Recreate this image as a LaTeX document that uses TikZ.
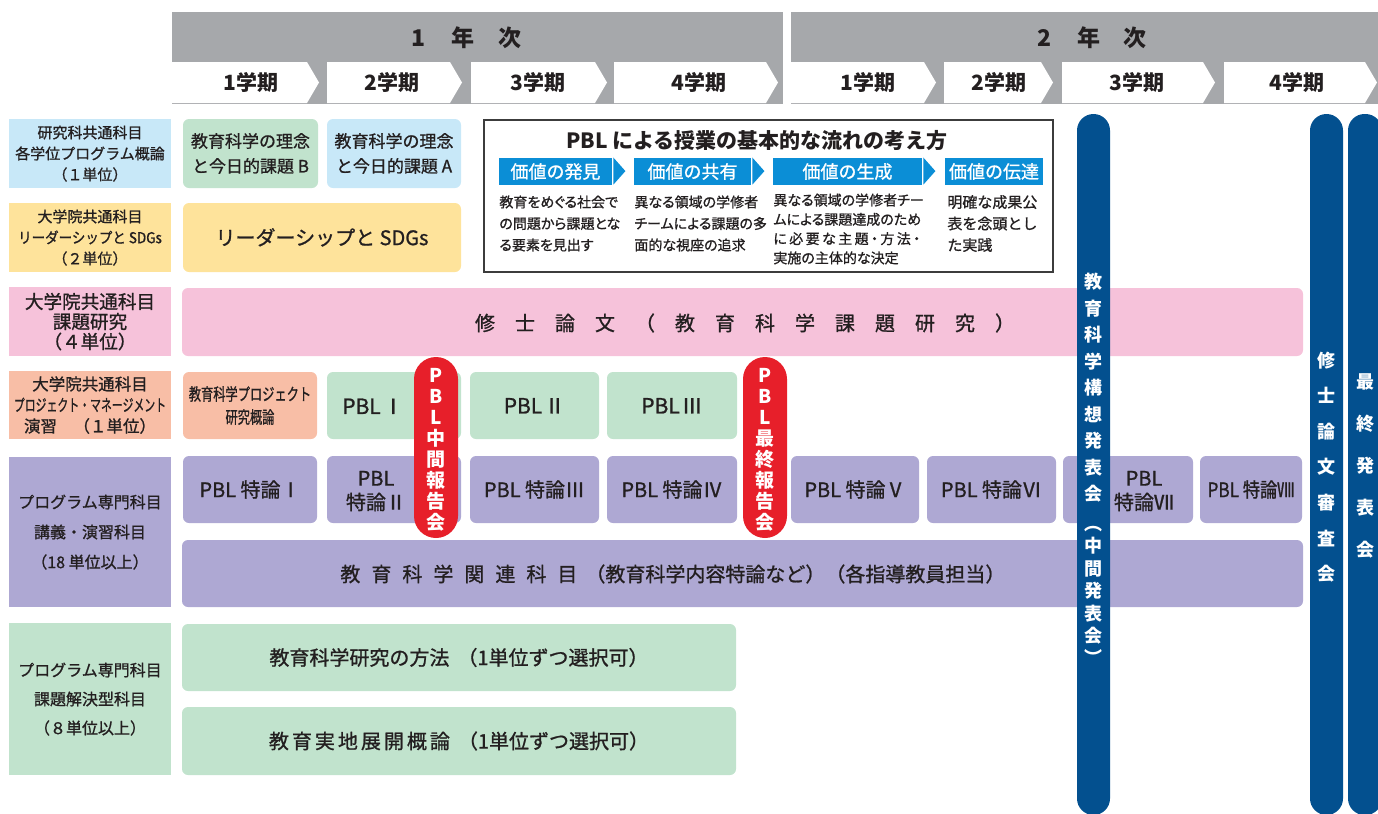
\documentclass[tikz,border=0pt]{standalone}
\usepackage{fontspec}
\usepackage{graphicx}
\setmainfont{Noto Sans CJK JP}[UprightFeatures={FakeBold=1}]
\newfontfamily\jpp{Noto Sans CJK JP}[RawFeature=+palt, UprightFeatures={FakeBold=1}]
\usetikzlibrary{fit}
\definecolor{hdr}{HTML}{A6A8AB}
\definecolor{cblue}{HTML}{C8E8F8}
\definecolor{cyellow}{HTML}{FEE39B}
\definecolor{cpink}{HTML}{F6C2DA}
\definecolor{csalmon}{HTML}{F8BEA6}
\definecolor{cpurple}{HTML}{AEA8D3}
\definecolor{cgreen}{HTML}{C1E3CD}
\definecolor{cred}{HTML}{E71F2A}
\definecolor{cnavy}{HTML}{03508F}
\definecolor{clab}{HTML}{0B8ED6}
\definecolor{ink}{HTML}{231F20}
\definecolor{pblline}{HTML}{3C3C3C}
\newcommand\spacedtext[2]{\def\sptsep{#1}\sptloop#2\relax}
\def\sptloop#1{\ifx#1\relax\else#1\expandafter\sptmid\fi}
\def\sptmid#1{\ifx#1\relax\else\hspace{\sptsep}#1\expandafter\sptmid\fi}
\newcommand\tl[1]{\raisebox{0pt}[0.88em][0.12em]{#1}}
\tikzset{
  sq/.style={inner sep=0pt},
  box/.style={inner sep=0pt, rounded corners=3pt},
  lbl/.style={inner sep=0pt, align=center, text=ink},
  tab/.style={fill=white, draw=none},
  wtxt/.style={inner sep=0pt, align=center, text=white},
  chev/.style={fill=clab, draw=none},
  capsule/.style={fill=cred, rounded corners=11pt, inner sep=0pt},
  bar/.style={fill=cnavy, rounded corners=8.25pt, inner sep=0pt},
}
\begin{document}
\begin{tikzpicture}[x=0.5pt,y=-0.5pt]
\useasboundingbox (0,0) rectangle (1378,814);
\clip (0,0) rectangle (1378,814);

% ---------- header ----------
\node[fill=hdr, inner sep=0pt, fit={(172,12) (783,104)}] (yr1) {};
\node[fill=hdr, inner sep=0pt, fit={(791,12) (1380,104)}] (yr2) {};
\node[lbl, font=\bfseries\fontsize{11.5}{12}\selectfont] (yr1t) at (467,38) {\tl{1\hspace{13pt}年\hspace{12pt}次}};
\node[lbl, font=\bfseries\fontsize{11.5}{12}\selectfont] (yr2t) at (1092,38) {\tl{2\hspace{13pt}年\hspace{12pt}次}};
\foreach \a/\b/\c/\t [count=\i] in {172/319/251/1学期, 327/462/392/2学期, 471/607/538/3学期, 614/778/699/4学期,
  791/936/868/1学期, 944/1053/999/2学期, 1062/1215/1137/3学期, 1224/1377/1297/4学期}{
  \path[tab] (\a,62) -- (\b-12,62) -- (\b,82.5) -- (\b-12,103) -- (\a,103) -- cycle;
  \node[lbl, font=\bfseries\fontsize{10.5}{12}\selectfont] (term\i) at (\c,83) {\tl{\t}};
}

% ---------- left column ----------
\node[sq, fill=cblue, fit={(9,119) (171,188)}] (l1) {};
\node[lbl, font=\fontsize{7.5}{10.5}\selectfont] (l1t) at (l1.center)
  {\tl{研究科共通科目}\\\tl{各学位プログラム概論}\\\tl{（１単位）}};
\node[sq, fill=cyellow, fit={(9,203) (171,272)}] (l2) {};
\node[lbl, font=\fontsize{7.5}{10.5}\selectfont] (l2t) at (l2.center)
  {\tl{大学院共通科目}\\\tl{\scalebox{0.9}[1]{リーダーシップと SDGs}}\\\tl{（２単位）}};
\node[sq, fill=cpink, fit={(9,287) (171,356)}] (l3) {};
\node[lbl, font=\fontsize{9.3}{10}\selectfont] (l3t) at (l3.center)
  {\tl{大学院共通科目}\\\tl{課題研究}\\\tl{（４単位）}};
\node[sq, fill=csalmon, fit={(9,371) (171,439)}] (l4) {};
\node[lbl, font=\fontsize{8.25}{10.5}\selectfont] (l4t) at (l4.center)
  {\tl{大学院共通科目}\\\tl{\scalebox{0.66}[1]{プロジェクト・マネージメント}}\\\tl{演習　（１単位）}};
\node[sq, fill=cpurple, fit={(9,457) (171,607)}] (l5) {};
\node[lbl, font=\fontsize{8}{15}\selectfont] (l5t) at (l5.center)
  {\tl{プログラム専門科目}\\\tl{講義・演習科目}\\\tl{（18 単位以上）}};
\node[sq, fill=cgreen, fit={(9,623) (171,775)}] (l6) {};
\node[lbl, font=\fontsize{8}{14.5}\selectfont] (l6t) at (l6.center)
  {\tl{プログラム専門科目}\\\tl{課題解決型科目}\\\tl{（８単位以上）}};

% ---------- row 1-2 ----------
\node[box, fill=cgreen, fit={(183,119) (318,188)}] (ideaB) {};
\node[lbl, font=\fontsize{8.5}{12.5}\selectfont] (ideaBt) at (ideaB.center)
  {\tl{教育科学の理念}\\\tl{と今日的課題 B}};
\node[box, fill=cblue, fit={(327,119) (461,188)}] (ideaA) {};
\node[lbl, font=\fontsize{8.5}{12.5}\selectfont] (ideaAt) at (ideaA.center)
  {\tl{教育科学の理念}\\\tl{と今日的課題 A}};
\node[box, fill=cyellow, fit={(183,203) (461,272)}] (sdg) {};
\node[lbl, font=\fontsize{10}{12}\selectfont] (sdgt) at (sdg.center) {\tl{リーダーシップと SDGs}};

% ---------- PBL box ----------
\node[draw=pblline, line width=0.7pt, fill=white, inner sep=0pt, fit={(484,120) (1053,272)}] (pbl) {};
\node[lbl, font=\bfseries\fontsize{10.5}{12}\selectfont] (pbltitle) at (757,141)
  {\tl{PBL による授業の基本的な流れの考え方}};
\node[fill=clab, inner sep=0pt, fit={(499,158) (612,185)}] (v1) {};
\node[fill=clab, inner sep=0pt, fit={(634,158) (751,185)}] (v2) {};
\node[fill=clab, inner sep=0pt, fit={(773,158) (922,185)}] (v3) {};
\node[fill=clab, inner sep=0pt, fit={(945,158) (1043,185)}] (v4) {};
\node[wtxt, font=\fontsize{9}{10}\selectfont] (v1t) at (v1.center) {\tl{価値の発見}};
\node[wtxt, font=\fontsize{9}{10}\selectfont] (v2t) at (v2.center) {\tl{価値の共有}};
\node[wtxt, font=\fontsize{9}{10}\selectfont] (v3t) at (v3.center) {\tl{価値の生成}};
\node[wtxt, font=\fontsize{9}{10}\selectfont] (v4t) at (v4.center) {\tl{価値の伝達}};
\path[chev] (v1.north east) ++(1,0) -- ++(12,13.5) -- ++(-12,13.5) -- cycle;
\path[chev] (v2.north east) ++(1,0) -- ++(12,13.5) -- ++(-12,13.5) -- cycle;
\path[chev] (v3.north east) ++(1,0) -- ++(12,13.5) -- ++(-12,13.5) -- cycle;
\node[lbl, anchor=west, align=left, font=\jpp\fontsize{7}{10.75}\selectfont] (c1) at (499,223.5)
  {\tl{教育をめぐる社会で}\\\tl{の問題から課題とな}\\\tl{る要素を見出す}};
\node[lbl, anchor=west, align=left, font=\jpp\fontsize{7}{10.75}\selectfont] (c2) at (634,223.5)
  {\tl{異なる領域の学修者}\\\tl{チームによる課題の多}\\\tl{面的な視座の追求}};
\node[lbl, anchor=west, align=left, font=\jpp\fontsize{7}{9.65}\selectfont] (c3) at (773,229)
  {\tl{異なる領域の学修者チー}\\\tl{ムによる課題達成のため}\\\tl{に\hspace{1.2pt}必\hspace{1.2pt}要\hspace{1.2pt}な\hspace{1.2pt}主\hspace{1.2pt}題\hspace{1.2pt}・\hspace{1.2pt}方\hspace{1.2pt}法\hspace{1.2pt}・}\\\tl{実施の主体的な決定}};
\node[lbl, anchor=west, align=left, font=\fontsize{7.5}{10.75}\selectfont] (c4) at (947,223.5)
  {\tl{明確な成果公}\\\tl{表を念頭とし}\\\tl{た実践}};

% ---------- thesis ----------
\node[box, fill=cpink, fit={(182,288) (1303,356)}] (thesis) {};
\node[lbl, font=\fontsize{10}{12}\selectfont] (thesist) at (745,323)
  {\tl{\spacedtext{10pt}{修士論文（教育科学課題研究）}}};

% ---------- row 4 ----------
\node[box, fill=csalmon, fit={(183,372) (317,439)}] (proj) {};
\node[lbl, font=\fontsize{8.5}{11.5}\selectfont] (projt) at (proj.center)
  {\tl{\scalebox{0.72}[1]{教育科学プロジェクト}}\\\tl{\scalebox{0.72}[1]{研究概論}}};
\node[box, fill=cgreen, fit={(327,372) (461,439)}] (pbl1) {};
\node[lbl, font=\fontsize{10.5}{12}\selectfont] (pbl1t) at (373,406) {\tl{PBL\hspace{1pt}Ⅰ}};
\node[box, fill=cgreen, fit={(470,372) (599,439)}] (pbl2) {};
\node[lbl, font=\fontsize{10.5}{12}\selectfont] (pbl2t) at (pbl2.center) {\tl{PBL\hspace{1pt}Ⅱ}};
\node[box, fill=cgreen, fit={(607,372) (737,439)}] (pbl3) {};
\node[lbl, font=\fontsize{10.5}{12}\selectfont] (pbl3t) at (pbl3.center) {\tl{PBL\hspace{1pt}Ⅲ}};

% ---------- row 5 ----------
\tikzset{spbox/.style={box, fill=cpurple}, sptxt/.style={lbl, font=\fontsize{10}{12}\selectfont}}
\node[spbox, fit={(183,456) (317,523)}] (sp1) {};
\node[sptxt] (sp1t) at (sp1.center) {\tl{PBL 特論Ⅰ}};
\node[spbox, fit={(327,456) (461,523)}] (sp2) {};
\node[sptxt] (sp2t) at (376,490) {\tl{PBL}\\\tl{特論Ⅱ}};
\node[spbox, fit={(470,456) (599,523)}] (sp3) {};
\node[sptxt] (sp3t) at (sp3.center) {\tl{PBL 特論Ⅲ}};
\node[spbox, fit={(607,456) (737,523)}] (sp4) {};
\node[sptxt] (sp4t) at (sp4.center) {\tl{PBL 特論Ⅳ}};
\node[spbox, fit={(791,456) (919,523)}] (sp5) {};
\node[sptxt] (sp5t) at (sp5.center) {\tl{PBL 特論Ⅴ}};
\node[spbox, fit={(927,456) (1056,523)}] (sp6) {};
\node[sptxt] (sp6t) at (sp6.center) {\tl{PBL 特論Ⅵ}};
\node[spbox, fit={(1063,456) (1193,523)}] (sp7) {};
\node[sptxt] (sp7t) at (1144,490) {\tl{PBL}\\\tl{特論Ⅶ}};
\node[spbox, fit={(1200,456) (1302,523)}] (sp8) {};
\node[sptxt] (sp8t) at (sp8.center) {\tl{\scalebox{0.86}[1]{PBL 特論Ⅷ}}};

\node[box, fill=cpurple, fit={(182,540) (1303,607)}] (rel) {};
\node[lbl, anchor=west, font=\fontsize{10}{12}\selectfont] (relt) at (340,574)
  {\tl{\spacedtext{5.5pt}{教育科学関連科目}\hspace{4pt}（教育科学内容特論など）（各指導教員担当）}};

% ---------- row 6 ----------
\node[box, fill=cgreen, fit={(182,624) (736,691)}] (meth) {};
\node[lbl, font=\fontsize{10}{12}\selectfont] (metht) at (meth.center)
  {\tl{教育科学研究の方法\hspace{4pt}（1単位ずつ選択可）}};
\node[box, fill=cgreen, fit={(182,707) (736,775)}] (field) {};
\node[lbl, font=\fontsize{10}{12}\selectfont] (fieldt) at (field.center)
  {\tl{\spacedtext{1.5pt}{教育実地展開概論}\hspace{4pt}（1単位ずつ選択可）}};

% ---------- red capsules ----------
\node[capsule, fit={(414,357) (458,538)}] (midrep) {};
\node[wtxt, font=\bfseries\fontsize{9.5}{10.5}\selectfont] (midrept) at (436,450) {P\\B\\L\\中\\間\\報\\告\\会};
\node[capsule, fit={(743,357) (787,538)}] (finrep) {};
\node[wtxt, font=\bfseries\fontsize{9.5}{10.5}\selectfont] (finrept) at (765,450) {P\\B\\L\\最\\終\\報\\告\\会};

% ---------- blue bars ----------
\node[bar, fit={(1077,114) (1110,815)}] (bar1) {};
\node[wtxt, font=\bfseries\fontsize{9}{11}\selectfont] (bar1t) at (1093.5,469)
  {教\\[2.25pt]育\\[2.25pt]科\\[2.25pt]学\\[2.25pt]構\\[2.25pt]想\\[2.25pt]発\\[2.25pt]表\\[2.25pt]会\\[4pt]︵\\中\\[0.3pt]間\\[0.3pt]発\\[0.3pt]表\\[0.3pt]会\\︶};
\node[bar, fit={(1310,114) (1343,815)}] (bar2) {};
\node[wtxt, font=\bfseries\fontsize{9}{17.8}\selectfont] (bar2t) at (1326.5,467) {修\\士\\論\\文\\審\\査\\会};
\node[bar, fit={(1348,114) (1382,815)}] (bar3) {};
\node[wtxt, font=\bfseries\fontsize{9}{20.9}\selectfont] (bar3t) at (1365,466) {最\\終\\発\\表\\会};
\end{tikzpicture}
\end{document}
